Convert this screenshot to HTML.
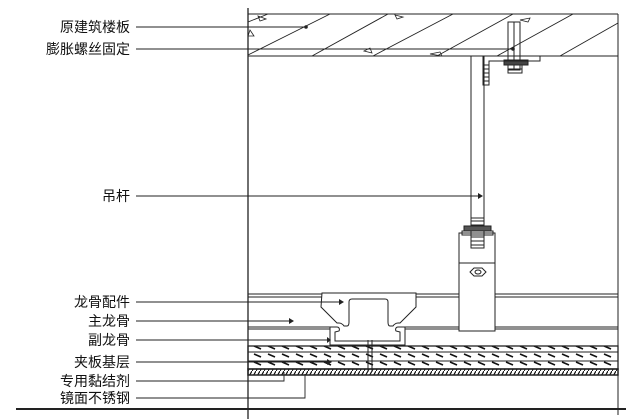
<!DOCTYPE html>
<html><head><meta charset="utf-8"><style>
html,body{margin:0;padding:0;background:#fff;}
svg{display:block}
text{font-family:"Liberation Sans","Noto Sans CJK SC",sans-serif;font-size:14px;fill:#111;text-anchor:end}
</style></head><body>
<svg width="640" height="419" viewBox="0 0 640 419" xmlns="http://www.w3.org/2000/svg">
<defs>
<pattern id="hb" width="14" height="8" patternUnits="userSpaceOnUse">
<line x1="2" y1="2" x2="9" y2="5" stroke="#111" stroke-width="1.6"/>
</pattern>
<pattern id="hd" width="4" height="7" patternUnits="userSpaceOnUse">
<line x1="0" y1="7" x2="4" y2="0" stroke="#111" stroke-width="1.2"/>
</pattern>
<pattern id="th" width="4" height="4" patternUnits="userSpaceOnUse">
<line x1="0" y1="1" x2="4" y2="1" stroke="#222" stroke-width="1"/>
</pattern>
</defs>
<g stroke="#222" fill="none" stroke-width="1">
<line x1="248" y1="8" x2="248" y2="419" stroke-width="1.3"/>
<line x1="618" y1="14" x2="618" y2="415"/>
<line x1="16" y1="409" x2="626" y2="409" stroke-width="2"/>
<line x1="248" y1="14" x2="618" y2="14"/>
<line x1="248" y1="56" x2="618" y2="56"/>
<g stroke-width="0.9">
<line x1="248" y1="55" x2="330" y2="14"/>
<line x1="312" y1="56" x2="388" y2="14"/>
<line x1="373" y1="56" x2="453" y2="14"/>
<line x1="437" y1="56" x2="513" y2="14"/>
<line x1="497" y1="56" x2="573" y2="14"/>
<line x1="560" y1="56" x2="618" y2="23"/>
<line x1="248" y1="22" x2="268" y2="14"/>
</g>
<path d="M258 16l8 3-6 2zM395 15l8 2-6 2zM250 30l4 6-6 0zM372 53l-8-2 6-3zM440 52l-10 2 12 2zM520 20l10 -2-2 4z" stroke-width="0.8"/>
<rect x="508" y="22" width="12" height="48"/>
<line x1="514" y1="22" x2="514" y2="70"/>
<rect x="504" y="60" width="24" height="5" fill="#444"/>
<rect x="508" y="65" width="14" height="8" fill="url(#th)"/>
<path d="M483 56v29h6v-24h51v-5z" />
<rect x="484" y="62" width="5" height="22" fill="url(#th)" stroke="none"/>
<line x1="471" y1="56" x2="471" y2="218"/>
<line x1="484" y1="56" x2="484" y2="218"/>
<rect x="471" y="218" width="13" height="30" fill="url(#th)"/>
<rect x="464" y="226" width="27" height="5" fill="#555"/>
<rect x="462" y="231" width="31" height="4"/>
<rect x="459" y="233" width="36" height="98"/>
<line x1="459" y1="263" x2="495" y2="263"/>
<path d="M470 272l4-4h8l4 4-4 4h-8z"/>
<ellipse cx="478" cy="272" rx="3" ry="2"/>
<line x1="248" y1="294" x2="322" y2="294"/><line x1="248" y1="297" x2="322" y2="297"/>
<line x1="416" y1="294" x2="459" y2="294"/><line x1="416" y1="297" x2="459" y2="297"/>
<line x1="495" y1="294" x2="618" y2="294"/><line x1="495" y1="297" x2="618" y2="297"/>
<line x1="248" y1="327" x2="330" y2="327"/><line x1="248" y1="329" x2="330" y2="329"/>
<line x1="405" y1="327" x2="459" y2="327"/><line x1="405" y1="329" x2="459" y2="329"/>
<line x1="495" y1="327" x2="618" y2="327"/><line x1="495" y1="329" x2="618" y2="329"/>
<path d="M322 293h94v14l-16 16h-2c-3 0-5 3-5 3h-3c-1 0-2-1-2-4v-20c0-2-1-3-3-3h-33c-2 0-3 1-3 3v20c0 3-1 4-2 4h-3s-2-3-5-3h-2l-16-16z" fill="#fff"/>
<path d="M330 345v-18h7c2 0 3 2 2 4l-4 1v9h65v-9l-4-1c-1-2 0-4 2-4h7v18z" fill="#fff"/>
<rect x="248" y="346" width="370" height="23" fill="url(#hb)" stroke-width="1.3"/>
<line x1="248" y1="352" x2="618" y2="352"/>
<line x1="248" y1="361" x2="618" y2="361"/>
<rect x="248" y="369" width="370" height="6" fill="url(#hd)" stroke-width="1.5"/>
<line x1="368" y1="340" x2="368" y2="372"/><line x1="372" y1="340" x2="372" y2="372"/>
<g stroke-width="0.9">
<line x1="136" y1="27" x2="306" y2="27"/>
<line x1="136" y1="49" x2="512" y2="49"/>
<line x1="136" y1="196" x2="478" y2="196"/>
<line x1="136" y1="302" x2="340" y2="302"/>
<line x1="136" y1="321" x2="290" y2="321"/>
<line x1="136" y1="340" x2="328" y2="340"/>
<line x1="136" y1="362" x2="328" y2="362"/>
<polyline points="136,381 284,381 284,372"/>
<polyline points="136,398 305,398 305,374"/>
</g>
</g>
<g fill="#222">
<circle cx="306" cy="27" r="1.8"/><circle cx="513" cy="49" r="1.8"/>
<path d="M478 193l5 3-5 3z"/><path d="M339 299l5 3-5 3z"/><path d="M289 318l5 3-5 3z"/>
<path d="M327 337l4 3-4 3z"/><path d="M327 359l5 3-5 3z"/>
</g>
<text x="130" y="32">原建筑楼板</text>
<text x="130" y="54">膨胀螺丝固定</text>
<text x="130" y="201">吊杆</text>
<text x="130" y="307">龙骨配件</text>
<text x="130" y="326">主龙骨</text>
<text x="130" y="345">副龙骨</text>
<text x="130" y="367">夹板基层</text>
<text x="130" y="386">专用黏结剂</text>
<text x="130" y="403">镜面不锈钢</text>
</svg>
</body></html>
